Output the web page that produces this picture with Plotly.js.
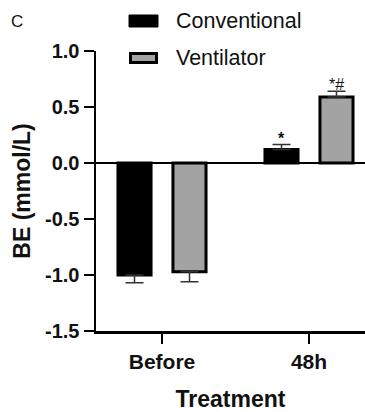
<!DOCTYPE html>
<html>
<head>
<meta charset="utf-8">
<script src="https://cdn.plot.ly/plotly-3.0.1.min.js"></script>
<style>
  html, body { margin: 0; padding: 0; background: #fff; }
  #chart { width: 365px; height: 412px; }
</style>
</head>
<body>
<div id="chart"></div>
<script>
// ---- data ----
const categories = ['Before', '48h'];
const seriesNames = ['Conventional', 'Ventilator'];
const conventional = [-1.00, 0.12];
const conventionalErr = [0.07, 0.045];
const ventilator = [-0.97, 0.59];
const ventilatorErr = [0.09, 0.05];
const conventionalMarks = ['', '*'];
const ventilatorMarks = ['', '*#'];
const yTickVals = [-1.5, -1.0, -0.5, 0.0, 0.5, 1.0];
const yTickLabels = ['-1.5', '-1.0', '-0.5', '0.0', '0.5', '1.0'];
const panelLabel = 'C';
const xTitle = 'Treatment';
const yTitle = 'BE (mmol/L)';

// ---- layout helpers (pixel -> paper) ----
const W = 365, H = 412;
const M = {l: 96, r: 0, t: 51, b: 81};
const pw = W - M.l - M.r, ph = H - M.t - M.b;
const px = x => (x - M.l) / pw;
const py = y => (H - M.b - y) / ph;

const FONT = 'Liberation Sans, Arial, sans-serif';
const barW = 0.225;
const halfSep = 0.187;

function upErr(vals, errs) { return vals.map((v, i) => v >= 0 ? errs[i] : 0); }
function downErr(vals, errs) { return vals.map((v, i) => v < 0 ? errs[i] : 0); }

const traceConv = {
  type: 'bar', name: seriesNames[0], x: categories, y: conventional,
  width: barW, offset: -halfSep - barW / 2,
  marker: {color: '#000000', line: {color: '#000000', width: 3}},
  error_y: {type: 'data', symmetric: false, array: upErr(conventional, conventionalErr),
            arrayminus: downErr(conventional, conventionalErr),
            color: '#333333', thickness: 1.5, width: 9},
  showlegend: false, hoverinfo: 'skip'
};
const traceVent = {
  type: 'bar', name: seriesNames[1], x: categories, y: ventilator,
  width: barW, offset: halfSep - barW / 2,
  marker: {color: '#a3a3a3', line: {color: '#000000', width: 3}},
  error_y: {type: 'data', symmetric: false, array: upErr(ventilator, ventilatorErr),
            arrayminus: downErr(ventilator, ventilatorErr),
            color: '#333333', thickness: 1.5, width: 9},
  showlegend: false, hoverinfo: 'skip'
};

const annotations = [];
categories.forEach((c, i) => {
  if (conventionalMarks[i]) annotations.push({
    x: c, y: conventional[i] + conventionalErr[i], xref: 'x', yref: 'y',
    text: conventionalMarks[i], showarrow: false, xshift: -27.5, yanchor: 'bottom', yshift: -4,
    font: {family: FONT, size: 16, color: '#111', weight: 'bold'}
  });
  if (ventilatorMarks[i]) annotations.push({
    x: c, y: ventilator[i] + ventilatorErr[i], xref: 'x', yref: 'y',
    text: ventilatorMarks[i], showarrow: false, xshift: 27.5, yanchor: 'bottom', yshift: -4,
    font: {family: FONT, size: 16, color: '#111'}
  });
});
annotations.push({
  x: px(9), y: py(22), xref: 'paper', yref: 'paper', xanchor: 'left', yanchor: 'middle',
  text: panelLabel, showarrow: false, font: {family: FONT, size: 17, color: '#111'}
});
// manual legend labels
annotations.push({
  x: px(174), y: py(21), xref: 'paper', yref: 'paper', xanchor: 'left', yanchor: 'middle',
  text: seriesNames[0], showarrow: false, font: {family: FONT, size: 21.5, color: '#111'}
});
annotations.push({
  x: px(174), y: py(58), xref: 'paper', yref: 'paper', xanchor: 'left', yanchor: 'middle',
  text: seriesNames[1], showarrow: false, font: {family: FONT, size: 21.5, color: '#111'}
});

const shapes = [
  {type: 'rect', xref: 'paper', yref: 'paper', x0: px(129), x1: px(158), y0: py(27), y1: py(15),
   fillcolor: '#000000', line: {color: '#000000', width: 1}},
  {type: 'rect', xref: 'paper', yref: 'paper', x0: px(130.5), x1: px(156.5), y0: py(62.5), y1: py(53.5),
   fillcolor: '#a3a3a3', line: {color: '#000000', width: 3}}
];

const layout = {
  width: W, height: H,
  margin: M,
  paper_bgcolor: '#ffffff', plot_bgcolor: '#ffffff',
  barmode: 'group',
  showlegend: false,
  font: {family: FONT, color: '#111'},
  xaxis: {
    type: 'category', range: [-0.449, 1.381], fixedrange: true,
    showline: true, linecolor: '#000', linewidth: 2.5,
    ticks: 'outside', ticklen: 10, tickwidth: 2.5, tickcolor: '#000',
    showgrid: false, zeroline: false,
    tickfont: {family: FONT, size: 21, color: '#111', weight: 'bold'},
    title: {text: '<b>' + xTitle + '</b>', font: {family: FONT, size: 23, color: '#111'}, standoff: 20}
  },
  yaxis: {
    range: [-1.5, 1.0], fixedrange: true,
    tickvals: yTickVals, ticktext: yTickLabels,
    showline: true, linecolor: '#000', linewidth: 2.5,
    ticks: 'outside', ticklen: 10, tickwidth: 2.5, tickcolor: '#000',
    showgrid: false,
    zeroline: true, zerolinecolor: '#000', zerolinewidth: 2.5,
    tickfont: {family: FONT, size: 20, color: '#111', weight: 'bold'},
    title: {text: '<b>' + yTitle + '</b>', font: {family: FONT, size: 23, color: '#111'}, standoff: 8}
  },
  annotations: annotations,
  shapes: shapes
};

Plotly.newPlot('chart', [traceConv, traceVent], layout, {displayModeBar: false, staticPlot: true});
</script>
</body>
</html>
